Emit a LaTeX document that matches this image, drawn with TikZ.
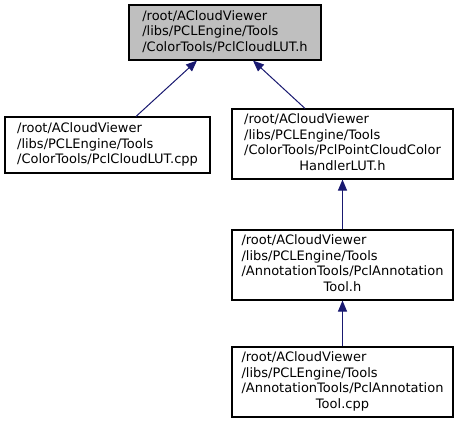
\documentclass[tikz,border=0pt]{standalone}
\usepackage{fontspec}
\setmainfont{DejaVu Sans}
\usetikzlibrary{arrows.meta}
\definecolor{edgeblue}{HTML}{191970}
\definecolor{hlgray}{HTML}{BFBFBF}
\tikzset{
  filebox/.style={draw=black, line width=1.1pt, rectangle, inner sep=0pt,
    font=\fontsize{13}{15.6}\selectfont, anchor=center},
  depedge/.style={draw=edgeblue, line width=1pt,
    -{Triangle[length=11pt,width=9pt]}}
}
\newcommand{\ftab}[2]{\begin{tabular}{@{}l@{}}#1\\\multicolumn{1}{@{}c@{}}{#2}\end{tabular}}
\begin{document}
\begin{tikzpicture}[x=1pt,y=-1pt]
\useasboundingbox (0,0) rectangle (461,423);
\node[filebox, fill=hlgray, minimum width=192pt, minimum height=55pt] (n1) at (225,32.5)
  {\begin{tabular}{@{}l@{}}/root/ACloudViewer\\/libs/PCLEngine/Tools\\/ColorTools/PclCloudLUT.h\end{tabular}};
\node[filebox, minimum width=205pt, minimum height=56pt] (n2) at (107.5,145)
  {\begin{tabular}{@{}l@{}}/root/ACloudViewer\\/libs/PCLEngine/Tools\\/ColorTools/PclCloudLUT.cpp\end{tabular}};
\node[filebox, minimum width=221pt, minimum height=70pt] (n3) at (342.5,144)
  {\ftab{/root/ACloudViewer\\/libs/PCLEngine/Tools\\/ColorTools/PclPointCloudColor}{HandlerLUT.h}};
\node[filebox, minimum width=221pt, minimum height=70pt] (n4) at (342.5,265)
  {\ftab{/root/ACloudViewer\\/libs/PCLEngine/Tools\\/AnnotationTools/PclAnnotation}{Tool.h}};
\node[filebox, minimum width=221pt, minimum height=70pt] (n5) at (342.5,382)
  {\ftab{/root/ACloudViewer\\/libs/PCLEngine/Tools\\/AnnotationTools/PclAnnotation}{Tool.cpp}};
\draw[depedge] (n2.north -| 136,0) -- (n1.south -| 197,0);
\draw[depedge] (n3.north -| 305,0) -- (n1.south -| 253,0);
\draw[depedge] (n4.north -| 342.5,0) -- (n3.south);
\draw[depedge] (n5.north -| 342.5,0) -- (n4.south);
\end{tikzpicture}
\end{document}
